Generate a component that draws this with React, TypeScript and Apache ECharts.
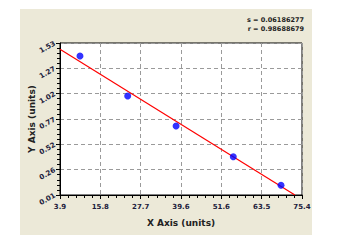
import React, { useEffect, useRef } from "react";
import * as echarts from "echarts";

// Data
const pointsX = [9.8, 23.9, 38.2, 55.1, 69.2];
const pointsY = [1.4, 1.0, 0.7, 0.393, 0.107];
const fitX = [3.9, 73.3];
const fitY = [1.467, 0.01];
const xTickLabels = ["3.9", "15.8", "27.7", "39.6", "51.6", "63.5", "75.4"];
const yTickLabels = ["0.01", "0.26", "0.52", "0.77", "1.02", "1.27", "1.53"];
const xMin = 3.9;
const xMax = 75.4;
const yMin = 0.01;
const yMax = 1.53;
const statLines = ["s = 0.06186277", "r = 0.98688679"];
const minorPerMajor = 5;

const FONT = "DejaVu Sans";
const LABEL_COLOR = "#1c1c3c";

export default function App() {
  const ref = useRef<HTMLDivElement>(null);
  useEffect(() => {
    if (!ref.current) return;
    const chart = echarts.init(ref.current, null, { renderer: "svg" });
    const minorX = Array.from({ length: (xTickLabels.length - 1) * minorPerMajor + 1 }, () => "");
    const minorY = Array.from({ length: (yTickLabels.length - 1) * minorPerMajor + 1 }, () => "");
    const labelStyle = {
      fontFamily: FONT,
      fontSize: 7,
      fontWeight: "bold" as const,
      color: LABEL_COLOR,
    };
    chart.setOption({
      animation: false,
      backgroundColor: "#ffffff",
      graphic: [
        {
          type: "rect",
          z: -10,
          shape: { x: 20, y: 9, width: 292, height: 226 },
          style: { fill: "#ece9d8" },
          silent: true,
        },
        ...statLines.map((t, i) => ({
          type: "text",
          right: 33,
          top: 16 + i * 9,
          style: {
            text: t,
            fontFamily: FONT,
            fontSize: 6.5,
            fontWeight: "bold",
            fill: "#222222",
          },
        })),
      ],
      grid: {
        left: 60,
        top: 43,
        width: 242,
        height: 152,
        show: true,
        backgroundColor: "#ffffff",
        borderColor: "#000000",
        borderWidth: 1,
        z: 0,
      },
      xAxis: [
        {
          type: "value",
          min: xMin,
          max: xMax,
          position: "bottom",
          name: "X Axis (units)",
          nameLocation: "middle",
          nameGap: 23,
          nameTextStyle: { fontFamily: FONT, fontSize: 9, fontWeight: "bold", color: "#222222" },
          axisLine: { show: false },
          axisTick: { show: false },
          axisLabel: { show: false },
          splitLine: { show: false },
        },
        {
          type: "category",
          data: xTickLabels,
          boundaryGap: false,
          position: "bottom",
          axisLine: { show: true, lineStyle: { color: "#000", width: 1 } },
          axisTick: { show: true, length: 4, interval: 0, lineStyle: { color: "#000" } },
          axisLabel: { ...labelStyle, interval: 0, margin: 8 },
          splitLine: {
            show: true,
            interval: 0,
            lineStyle: { color: "#9a9a9a", type: [4, 3], width: 1 },
          },
        },
        {
          type: "category",
          data: minorX,
          boundaryGap: false,
          position: "bottom",
          axisLine: { show: false },
          axisTick: { show: true, length: 3, interval: 0, lineStyle: { color: "#000" } },
          axisLabel: { show: false },
          splitLine: { show: false },
        },
      ],
      yAxis: [
        {
          type: "value",
          min: yMin,
          max: yMax,
          position: "left",
          name: "Y Axis (units)",
          nameLocation: "middle",
          nameGap: 24,
          nameRotate: 90,
          nameTextStyle: { fontFamily: FONT, fontSize: 9, fontWeight: "bold", color: "#222222" },
          axisLine: { show: false },
          axisTick: { show: false },
          axisLabel: { show: false },
          splitLine: { show: false },
        },
        {
          type: "category",
          data: yTickLabels,
          boundaryGap: false,
          position: "left",
          axisLine: { show: true, lineStyle: { color: "#000", width: 1 } },
          axisTick: { show: true, length: 4, interval: 0, lineStyle: { color: "#000" } },
          axisLabel: { ...labelStyle, interval: 0, margin: 5, rotate: 30 },
          splitLine: {
            show: true,
            interval: 0,
            lineStyle: { color: "#9a9a9a", type: [4, 3], width: 1 },
          },
        },
        {
          type: "category",
          data: minorY,
          boundaryGap: false,
          position: "left",
          axisLine: { show: false },
          axisTick: { show: true, length: 3, interval: 0, lineStyle: { color: "#000" } },
          axisLabel: { show: false },
          splitLine: { show: false },
        },
      ],
      series: [
        {
          type: "line",
          xAxisIndex: 0,
          yAxisIndex: 0,
          data: fitX.map((x, i) => [x, fitY[i]]),
          showSymbol: false,
          symbol: "none",
          lineStyle: { color: "#ff0000", width: 1.2 },
          z: 3,
        },
        {
          type: "scatter",
          xAxisIndex: 0,
          yAxisIndex: 0,
          data: pointsX.map((x, i) => [x, pointsY[i]]),
          symbol: "circle",
          symbolSize: 7,
          itemStyle: { color: "#0000ff" },
          z: 4,
        },
      ],
    });
    return () => chart.dispose();
  }, []);
  return (
    <div
      ref={ref}
      style={{ position: "fixed", left: 0, top: 0, width: 337, height: 242 }}
    />
  );
}
